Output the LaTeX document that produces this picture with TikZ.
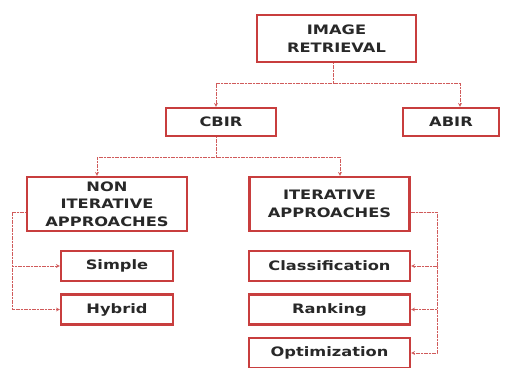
\documentclass[tikz,border=0pt]{standalone}
\usepackage{fontspec}
\newfontfamily\boxfont{DejaVu Sans}[FakeStretch=1.25]
\usetikzlibrary{calc,arrows}
\definecolor{boxred}{RGB}{200,62,62}
\definecolor{txtgray}{RGB}{40,40,40}
\tikzset{
	box/.style={draw=boxred,line width=2.4pt,fill=white,text=txtgray,font=\boxfont\bfseries\fontsize{13}{17.5}\selectfont,align=center,inner sep=0pt},
	conn/.style={draw=boxred!85,line width=.7pt,dash pattern=on 1.2pt off .4pt,-stealth}
}
\begin{document}
\begin{tikzpicture}[x=1pt,y=-1pt]
			\useasboundingbox (0,0) rectangle (505,367);
			\path (336.5,38.5) node[box,minimum width=159,minimum height=47](ir){IMAGE\\RETRIEVAL};
			\foreach \x/\w/\n/\gt in {221/110/cbir/CBIR,451/96/abir/ABIR}\path (\x,122) node[box,minimum width=\w,minimum height=28](\n){\gt};
			\foreach \x/\n/\gt in {107/non/NON\\ITERATIVE\\APPROACHES,329.5/itr/ITERATIVE\\APPROACHES}\path (\x,204) node[box,minimum width=160,minimum height=54](\n){\gt};
			\foreach \y/\n/\gt in {266/simple/Simple,309.5/hybrid/Hybrid}\path (117,\y) node[box,minimum width=112,minimum height=30](\n){\gt};
			\foreach \y/\n/\gt in {266/class/Classification,309.5/rank/Ranking,353/opt/Optimization}\path (329.5,\y) node[box,minimum width=161,minimum height=30](\n){\gt};
			% upper levels
			\draw[conn] ([xshift=-3.5]ir.south)--++(0,20)-|([xshift=-5]cbir.north);
			\draw[conn] ([xshift=-3.5]ir.south)--++(0,20)-|([xshift=9]abir.north);
			\draw[conn] ([xshift=-5]cbir.south)--++(0,20)-|([xshift=-10]non.north);
			\draw[conn] ([xshift=-5]cbir.south)--++(0,20)-|([xshift=10.5]itr.north);
			% approaches
			\foreach \n in {simple,hybrid}\draw[conn] ([yshift=-8]non.west)--++(-13,0)|-(\n);
			\foreach \n in {class,rank,opt}\draw[conn] ([yshift=-8]itr.east)--++(27,0)|-(\n);
		\end{tikzpicture}
\end{document}
